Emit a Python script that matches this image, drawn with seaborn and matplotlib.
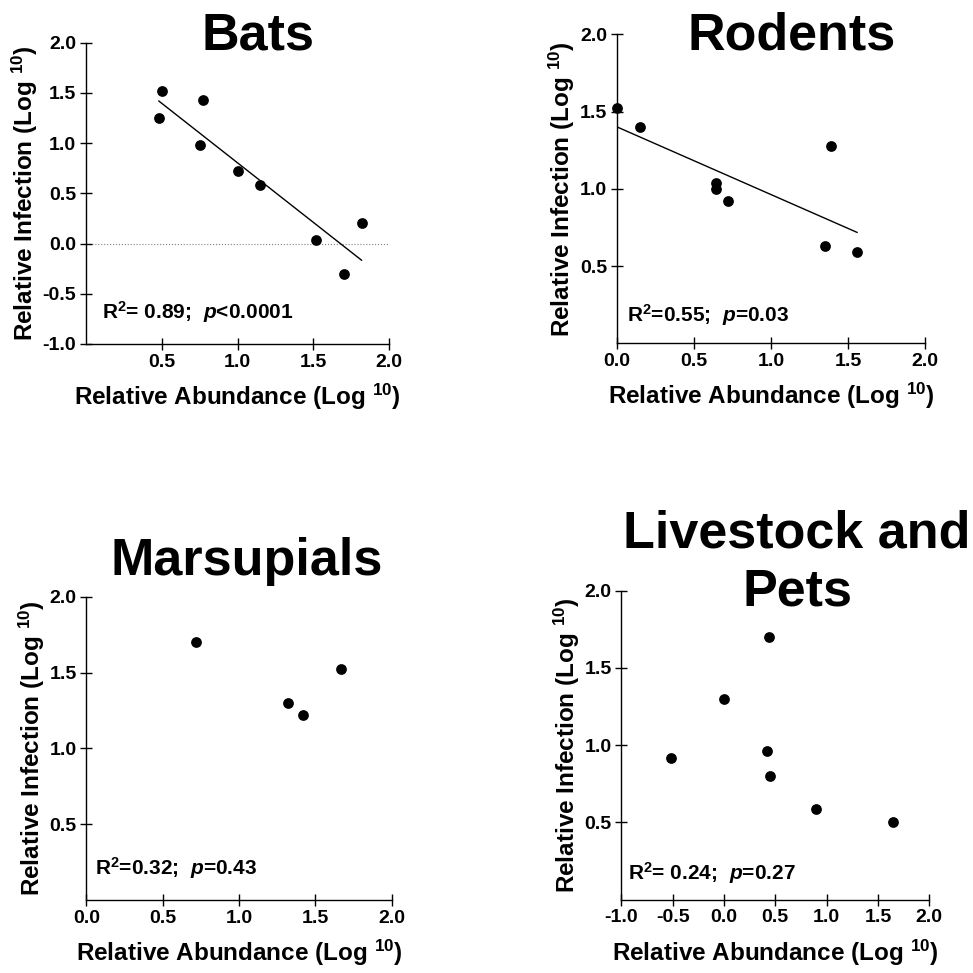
import pandas as pd
import seaborn as sns
import matplotlib.pyplot as plt

# Данные
bats_x = [0.48, 0.50, 0.77, 0.75, 1.00, 1.15, 1.52, 1.70, 1.82]
bats_y = [1.25, 1.52, 1.43, 0.98, 0.72, 0.58, 0.04, -0.30, 0.20]

rodents_x = [0.00, 0.15, 0.64, 0.64, 0.72, 1.39, 1.35, 1.56]
rodents_y = [1.52, 1.40, 1.04, 1.00, 0.92, 1.28, 0.63, 0.59]

marsupials_x = [0.72, 1.32, 1.42, 1.67]
marsupials_y = [1.70, 1.30, 1.22, 1.52]

livestock_x = [-0.52, 0.00, 0.44, 0.42, 0.45, 0.90, 1.65]
livestock_y = [0.92, 1.30, 1.70, 0.96, 0.80, 0.59, 0.50]

stats_text = [r"R$^2$= 0.89;  $p$<0.0001", r"R$^2$=0.55;  $p$=0.03",
              r"R$^2$=0.32;  $p$=0.43", r"R$^2$= 0.24;  $p$=0.27"]

sns.set_style("ticks")
plt.rcParams['font.family'] = ['Liberation Sans', 'DejaVu Sans']
plt.rcParams['font.weight'] = 'bold'
plt.rcParams['text.color'] = 'black'
plt.rcParams['axes.labelcolor'] = 'black'
plt.rcParams['mathtext.fontset'] = 'custom'
plt.rcParams['mathtext.rm'] = 'Liberation Sans:bold'
plt.rcParams['mathtext.bf'] = 'Liberation Sans:bold'
plt.rcParams['mathtext.it'] = 'Liberation Sans:italic:bold'

fig = plt.figure(figsize=(9.73, 9.73), dpi=100)

W = 973.0
def box(l, r, t, b):
    return [l / W, (W - b) / W, (r - l) / W, (b - t) / W]

ax1 = fig.add_axes(box(86, 389, 42.7, 344))
ax2 = fig.add_axes(box(617, 925, 34.3, 343.3))
ax3 = fig.add_axes(box(86.3, 391.7, 596.7, 900))
ax4 = fig.add_axes(box(621.3, 929.3, 590.7, 899.7))

panels = [
    (ax1, bats_x, bats_y, True, (0, 2), (-1, 2), [0.5, 1.0, 1.5, 2.0], [-1.0, -0.5, 0.0, 0.5, 1.0, 1.5, 2.0], (0.053, 0.083)),
    (ax2, rodents_x, rodents_y, True, (0, 2), (0, 2), [0.0, 0.5, 1.0, 1.5, 2.0], [0.5, 1.0, 1.5, 2.0], (0.031, 0.07)),
    (ax3, marsupials_x, marsupials_y, False, (0, 2), (0, 2), [0.0, 0.5, 1.0, 1.5, 2.0], [0.5, 1.0, 1.5, 2.0], (0.029, 0.083)),
    (ax4, livestock_x, livestock_y, False, (-1, 2), (0, 2), [-1.0, -0.5, 0.0, 0.5, 1.0, 1.5, 2.0], [0.5, 1.0, 1.5, 2.0], (0.023, 0.064)),
]

for i, (ax, xs, ys, fit, xl, yl, xt, yt, tpos) in enumerate(panels):
    df = pd.DataFrame({"x": xs, "y": ys})
    if fit:
        sns.regplot(x="x", y="y", data=df, ax=ax, scatter=False, ci=None,
                    color="black", line_kws={"lw": 1.0})
    sns.scatterplot(x="x", y="y", data=df, ax=ax, color="black", s=60,
                    edgecolor="black", linewidth=0, clip_on=False, zorder=5)
    ax.set_xlim(*xl)
    ax.set_ylim(*yl)
    ax.set_xticks(xt)
    ax.set_yticks(yt)
    ax.set_xticklabels([f"{v:.1f}" for v in xt])
    ax.set_yticklabels([f"{v:.1f}" for v in yt])
    ax.tick_params(direction="inout", length=8, width=1.0, labelsize=14, pad=3, colors="black")
    for s in ["top", "right"]:
        ax.spines[s].set_visible(False)
    for s in ["left", "bottom"]:
        ax.spines[s].set_linewidth(1.0)
        ax.spines[s].set_color("black")
    ax.set_xlabel(r"Relative Abundance (Log $^{10}$)", fontsize=17.5, fontweight="bold", labelpad=8)
    ax.set_ylabel(r"Relative Infection (Log $^{10}$)", fontsize=17.5, fontweight="bold", labelpad=2)
    ax.text(tpos[0], tpos[1], stats_text[i], transform=ax.transAxes, fontsize=15,
            fontweight="bold", ha="left", va="baseline")

ax1.axhline(0, color="gray", ls=":", lw=0.8, zorder=0)

# Заголовки
fig.text(258 / W, (W - 50) / W, "Bats", fontsize=37.5, fontweight="bold", ha="center", va="baseline")
fig.text(792 / W, (W - 50) / W, "Rodents", fontsize=37.5, fontweight="bold", ha="center", va="baseline")
fig.text(247 / W, (W - 575) / W, "Marsupials", fontsize=37.5, fontweight="bold", ha="center", va="baseline")
fig.text(797 / W, (W - 547) / W, "Livestock and", fontsize=37.5, fontweight="bold", ha="center", va="baseline")
fig.text(798 / W, (W - 606) / W, "Pets", fontsize=37.5, fontweight="bold", ha="center", va="baseline")

plt.savefig("out.png", dpi=100)
